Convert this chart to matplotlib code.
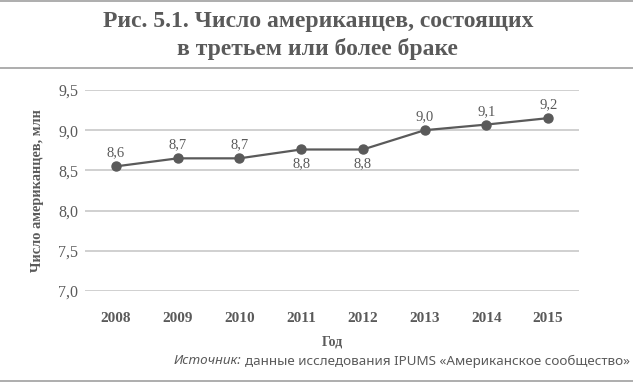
import matplotlib.pyplot as plt
from matplotlib.lines import Line2D

years = ["2008", "2009", "2010", "2011", "2012", "2013", "2014", "2015"]
values = [8.55, 8.65, 8.65, 8.76, 8.76, 9.00, 9.07, 9.15]
labels = ["8,6", "8,7", "8,7", "8,8", "8,8", "9,0", "9,1", "9,2"]
below = [False, False, False, True, True, False, False, False]
yticks = [7.0, 7.5, 8.0, 8.5, 9.0, 9.5]

dark = "#5a5a5a"
grid = "#c8c8c8"
serif = ["Liberation Serif", "DejaVu Serif"]
sans = ["Noto Sans", "DejaVu Sans"]

fig = plt.figure(figsize=(6.33, 3.82), dpi=100)
ax = fig.add_axes([85 / 633, 1 - 291 / 382, 494 / 633, 201 / 382])

x = list(range(len(years)))
ax.plot(x, values, color=dark, lw=1.6, marker="o", ms=6.5, zorder=3)

for xi, v, lab, b in zip(x, values, labels, below):
    off = -10 if b else 9.5
    ax.annotate(lab, (xi, v), xytext=(0, off), textcoords="offset points",
                ha="center", va="center", fontsize=10.5, color=dark, family=serif)

ax.set_xlim(-0.5, len(years) - 0.5)
ax.set_ylim(7.0, 9.5)
ax.set_xticks(x)
ax.set_xticklabels(years, fontsize=11, fontweight="bold", color=dark, family=serif)
ax.set_yticks(yticks)
ax.set_yticklabels([f"{t:.1f}".replace(".", ",") for t in yticks],
                   fontsize=11.5, color=dark, family=serif)
ax.tick_params(axis="y", length=0, pad=5)
ax.tick_params(axis="x", length=0, pad=15)
ax.grid(axis="y", color=grid, lw=1.2)
ax.set_axisbelow(True)
for s in ax.spines.values():
    s.set_visible(False)

ax.set_xlabel("Год", fontsize=10, fontweight="bold", color=dark, family=serif, labelpad=8)
ax.set_ylabel("Число американцев, млн", fontsize=10.4, fontweight="bold", color=dark,
              family=serif, labelpad=10)

fig.text(0.502, 1 - 21 / 382, "Рис. 5.1. Число американцев, состоящих", ha="center", va="center",
         fontsize=17, fontweight="bold", color=dark, family=serif)
fig.text(0.502, 1 - 49 / 382, "в третьем или более браке", ha="center", va="center",
         fontsize=17, fontweight="bold", color=dark, family=serif)

src = fig.text(630 / 633, 1 - 361 / 382, "данные исследования IPUMS «Американское сообщество»",
               ha="right", va="center", fontsize=9.7, color=dark, family=sans)
fig.canvas.draw()
bb = src.get_window_extent()
fig.text((bb.x0 - 4) / 633, 1 - 361 / 382, "Источник:", ha="right", va="center",
         fontsize=9.7, color=dark, family=sans, style="italic")

for yy in [1, 68, 381]:
    fig.add_artist(Line2D([0, 1], [1 - yy / 382] * 2, color="#a0a0a0", lw=1.2))

fig.savefig("out.png", dpi=100, facecolor="white")
